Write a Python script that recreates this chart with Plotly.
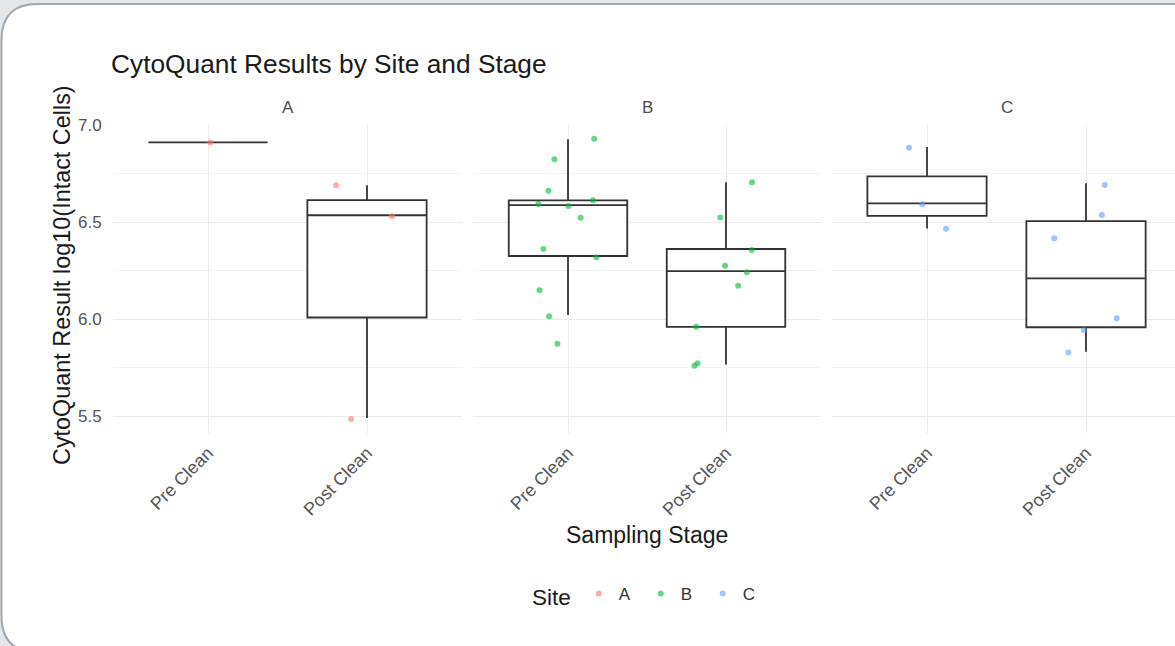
import plotly.graph_objects as go

# ---- data -------------------------------------------------------------
stages = ["Pre Clean", "Post Clean"]
sites = ["A", "B", "C"]
site_colors = ["#F8766D", "#00BA38", "#619CFF"]

# individual results (log10 intact cells), stage label and horizontal jitter
a_stage = ["Pre Clean", "Post Clean", "Post Clean", "Post Clean"]
a_value = [6.91, 6.69, 6.53, 5.485]
a_jitter = [0.014, -0.195, 0.157, -0.10]

b_stage = ["Pre Clean"] * 12 + ["Post Clean"] * 9
b_value = [6.929, 6.823, 6.661, 6.593, 6.582, 6.612, 6.522, 6.361, 6.318, 6.148, 6.015, 5.873,
           6.705, 6.524, 6.356, 6.275, 6.241, 6.172, 5.96, 5.772, 5.759]
b_jitter = [0.166, -0.086, -0.124, -0.187, 0.002, 0.158, 0.08, -0.156, 0.18, -0.18, -0.12, -0.067,
            0.164, -0.036, 0.164, -0.006, 0.132, 0.077, -0.189, -0.18, -0.2]

c_stage = ["Pre Clean"] * 3 + ["Post Clean"] * 6
c_value = [6.883, 6.591, 6.466,
           6.691, 6.536, 6.416, 6.004, 5.943, 5.828]
c_jitter = [-0.113, -0.03, 0.12,
            0.118, 0.1, -0.2, 0.193, -0.013, -0.111]

# box summaries per site, ordered [Pre Clean, Post Clean]
a_q1, a_median, a_q3, a_low, a_high = [6.91, 6.008], [6.91, 6.535], [6.91, 6.613], [6.91, 5.49], [6.91, 6.69]
b_q1, b_median, b_q3, b_low, b_high = [6.325, 5.96], [6.587, 6.247], [6.612, 6.361], [6.021, 5.766], [6.927, 6.705]
c_q1, c_median, c_q3, c_low, c_high = [6.532, 5.958], [6.596, 6.21], [6.735, 6.505], [6.467, 5.831], [6.887, 6.70]

y_ticks = [5.5, 6.0, 6.5, 7.0]
y_tick_text = ["5.5", "6.0", "6.5", "7.0"]

# ---- layout geometry (pixels) -----------------------------------------
W, H = 1175, 646
def fx(px):
    return px / W
def fy(py):
    return 1 - py / H

panel_x = [(112.6, 462.4), (473.2, 820.8), (831.6, 1175.0)]
unit_px = [(462.4 - 112.6) / 2.2, (820.8 - 473.2) / 2.2, 159.0]
panel_top, panel_bottom = 124.8, 433.0
y_range = [5.413, 7.001]

FONT = "Liberation Sans, Arial, sans-serif"
stage_pos = {s: i + 1 for i, s in enumerate(stages)}

site_data = [
    (a_stage, a_value, a_jitter, (a_q1, a_median, a_q3, a_low, a_high)),
    (b_stage, b_value, b_jitter, (b_q1, b_median, b_q3, b_low, b_high)),
    (c_stage, c_value, c_jitter, (c_q1, c_median, c_q3, c_low, c_high)),
]

fig = go.Figure()

for i, (site, color, (stg, val, jit, stats)) in enumerate(zip(sites, site_colors, site_data)):
    xa = "x" if i == 0 else f"x{i + 1}"
    ya = "y" if i == 0 else f"y{i + 1}"
    q1, med, q3, lo, hi = stats
    fig.add_trace(go.Box(
        x=[1, 2], q1=q1, median=med, q3=q3, lowerfence=lo, upperfence=hi,
        width=0.75, whiskerwidth=0, boxpoints=False,
        fillcolor="white", line=dict(color="#333333", width=1.8),
        xaxis=xa, yaxis=ya, showlegend=False, hoverinfo="skip",
    ))
    fig.add_trace(go.Scatter(
        x=[stage_pos[s] + j for s, j in zip(stg, jit)], y=val,
        mode="markers", name=site,
        marker=dict(color=color, size=6, opacity=0.6, line=dict(width=0)),
        xaxis=xa, yaxis=ya, showlegend=True,
    ))

axis_common = dict(showline=False, zeroline=False, ticks="", fixedrange=True)
layout_axes = {}
for i, ((x0, x1), u) in enumerate(zip(panel_x, unit_px)):
    suffix = "" if i == 0 else str(i + 1)
    xr = [0.4, 0.4 + (x1 - x0) / u]
    layout_axes[f"xaxis{suffix}"] = dict(
        domain=[fx(x0), fx(x1)], range=xr, anchor=f"y{suffix}",
        tickvals=[1, 2], ticktext=stages, tickangle=-45, ticklabelstandoff=5,
        tickfont=dict(family=FONT, size=18, color="#555555"),
        showgrid=True, gridcolor="#ebebeb", gridwidth=1.1,
        automargin=False, **axis_common,
    )
    layout_axes[f"yaxis{suffix}"] = dict(
        domain=[fy(panel_bottom), fy(panel_top)], range=y_range, anchor=f"x{suffix}",
        tickvals=y_ticks, ticktext=y_tick_text, ticklabelstandoff=10,
        showticklabels=(i == 0),
        tickfont=dict(family=FONT, size=17, color="#555555"),
        showgrid=True, gridcolor="#ebebeb", gridwidth=1.1,
        minor=dict(tickvals=[5.75, 6.25, 6.75], showgrid=True, gridcolor="#f2f2f2", gridwidth=0.6),
        automargin=False, **axis_common,
    )

# rounded white card behind the chart
def card_path(left, top, right, bottom, r):
    pts = [
        f"M {fx(left)},{fy(bottom - r)}",
        f"L {fx(left)},{fy(top + r)}",
        f"Q {fx(left)},{fy(top)} {fx(left + r)},{fy(top)}",
        f"L {fx(right)},{fy(top)}",
        f"L {fx(right)},{fy(bottom)}",
        f"L {fx(left + r)},{fy(bottom)}",
        f"Q {fx(left)},{fy(bottom)} {fx(left)},{fy(bottom - r)}",
        "Z",
    ]
    return " ".join(pts)

shapes = [dict(type="path", xref="paper", yref="paper", layer="below",
               path=card_path(1.5, 4.0, 1210, 652, 36),
               fillcolor="white", line=dict(color="#a3a7ab", width=2))]

def label(text, x, y, size, color, **kw):
    return dict(text=text, x=fx(x), y=fy(y), xref="paper", yref="paper",
                showarrow=False, font=dict(family=FONT, size=size, color=color), **kw)

annotations = [
    label("CytoQuant Results by Site and Stage", 109, 64, 26.3, "#1a1a1a",
          xanchor="left", yanchor="middle"),
    label("CytoQuant Result log10(Intact Cells)", 62, 275, 23.4, "#1a1a1a",
          textangle=-90, xanchor="center", yanchor="middle"),
    label("Sampling Stage", 647, 535, 23, "#1a1a1a", xanchor="center", yanchor="middle"),
]
for site, (x0, x1) in zip(sites, [(112.6, 462.4), (473.2, 820.8), (831.6, 1182.4)]):
    annotations.append(label(site, (x0 + x1) / 2, 108, 17, "#4d4d4d",
                             xanchor="center", yanchor="middle"))

fig.update_layout(
    width=W, height=H,
    margin=dict(l=0, r=0, t=0, b=0),
    paper_bgcolor="#e4e7e9", plot_bgcolor="rgba(0,0,0,0)",
    shapes=shapes, annotations=annotations,
    legend=dict(orientation="h", x=fx(530), y=fy(596), xanchor="left", yanchor="middle",
                title=dict(text="Site", font=dict(family=FONT, size=22.5, color="#1a1a1a")),
                font=dict(family=FONT, size=17, color="#333333"),
                bgcolor="rgba(0,0,0,0)", itemwidth=30, entrywidth=17, traceorder="normal"),
    showlegend=True,
    **layout_axes,
)

fig.write_html("out.html")
